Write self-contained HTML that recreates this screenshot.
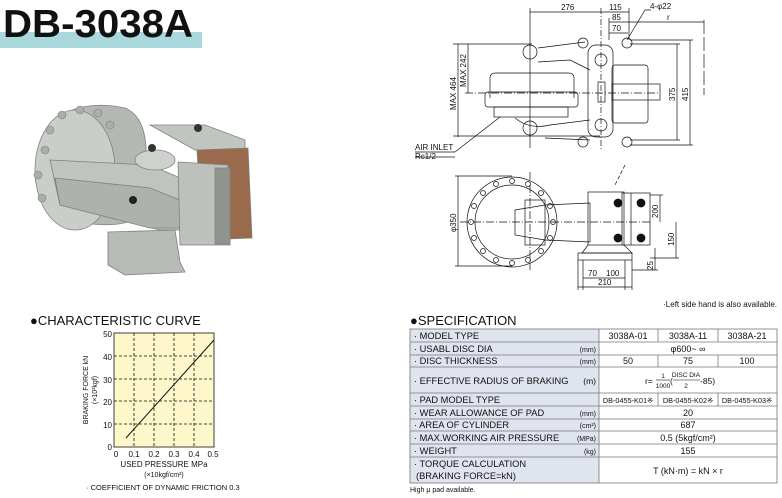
<!DOCTYPE html>
<html><head><meta charset="utf-8"><style>
body{margin:0;background:#fff;width:782px;height:498px;overflow:hidden;font-family:"Liberation Sans",sans-serif}
svg{display:block}
text{font-family:"Liberation Sans",sans-serif}
</style></head><body>
<svg width="782" height="498" viewBox="0 0 782 498" xmlns="http://www.w3.org/2000/svg">
<!-- title -->
<rect x="0" y="32" width="202" height="16" fill="#a9d9dc"/>
<text x="3" y="37" font-size="39" font-weight="bold" fill="#111" textLength="190" lengthAdjust="spacingAndGlyphs">DB-3038A</text>

<!-- photo -->
<g stroke="#7c827c" stroke-width="0.8">
<path d="M60 115 Q90 100 125 108 Q148 118 146 160 L145 215 Q120 230 80 222 Z" fill="#b3b9b2"/>
<ellipse cx="75" cy="170" rx="40" ry="60" fill="#c9cec8"/>
<path d="M150 125 L205 125 L245 140 L245 150 L195 150 Z" fill="#c0c6bf"/>
<path d="M50 160 L150 165 L185 180 L190 230 L160 230 L60 205 Z" fill="#bfc5be"/>
<path d="M55 178 L150 188 L185 202 L185 228 L150 228 L60 205Z" fill="#adb3ac"/>
<ellipse cx="155" cy="160" rx="20" ry="10" fill="#cdd2cc"/>
<path d="M108 232 L175 230 L180 262 L185 272 L125 275 L108 265 Z" fill="#b6bcb5"/>
<path d="M197 150 L248 148 L252 238 L202 240 Z" fill="#9a6a4c"/>
<path d="M178 162 L228 165 L230 245 L180 245 Z" fill="#bcc2bb"/>
<rect x="215" y="168" width="15" height="76" fill="#8f958e"/>
</g>
<g fill="#aab0a9" stroke="#7c827c" stroke-width="0.6">
<circle cx="45" cy="150" r="4"/><circle cx="50" cy="130" r="4"/><circle cx="62" cy="115" r="4"/><circle cx="80" cy="110" r="4"/><circle cx="98" cy="113" r="4"/><circle cx="110" cy="125" r="4"/><circle cx="38" cy="175" r="4"/><circle cx="42" cy="198" r="4"/>
</g>
<circle cx="133" cy="200" r="4" fill="#222"/>
<circle cx="198" cy="128" r="4" fill="#333"/><circle cx="152" cy="148" r="4" fill="#333"/>

<!-- top view drawing -->
<g stroke="#111" stroke-width="0.7" fill="none">
<line x1="530" y1="12" x2="629" y2="12"/><line x1="530" y1="8" x2="530" y2="148"/>
<line x1="601" y1="8" x2="601" y2="150" stroke-dasharray="6 2 1 2"/>
<line x1="629" y1="8" x2="629" y2="40"/>
<line x1="609" y1="22" x2="704" y2="22"/><line x1="609" y1="18" x2="609" y2="40"/>
<line x1="609" y1="33" x2="628" y2="33"/>
<line x1="704" y1="20" x2="704" y2="95" stroke-dasharray="14 3"/>
<path d="M651 10 L645 10 L627 40"/>
<line x1="458" y1="44" x2="458" y2="137"/><line x1="453" y1="44" x2="532" y2="44"/><line x1="453" y1="136" x2="600" y2="136"/>
<line x1="468" y1="44" x2="468" y2="93"/><line x1="465" y1="93" x2="660" y2="93" stroke-dasharray="8 2 1 2"/>
<line x1="677" y1="44" x2="677" y2="140"/><line x1="630" y1="44" x2="680" y2="44"/><line x1="630" y1="140" x2="680" y2="140"/>
<line x1="690" y1="40" x2="690" y2="145"/><line x1="630" y1="40" x2="693" y2="40"/><line x1="630" y1="145" x2="693" y2="145"/>
<path d="M490 98 L490 78 Q490 73 496 73 L568 73 Q574 73 574 78 L574 98"/>
<rect x="485" y="92" width="93" height="15" rx="3"/>
<rect x="494" y="107" width="74" height="10"/>
<path d="M538 48 L585 42 M538 62 L570 60 L590 70 M515 118 Q530 130 550 125 L590 120 M545 138 L590 140"/>
<rect x="588" y="45" width="25" height="92" rx="8"/>
<rect x="598" y="82" width="7" height="20"/>
<rect x="612" y="65" width="36" height="58" rx="3"/>
<rect x="612" y="84" width="48" height="16"/>
<circle cx="601" cy="60" r="6"/><circle cx="601" cy="125" r="6"/>
<circle cx="627" cy="43" r="5"/><circle cx="627" cy="142" r="5"/>
<circle cx="583" cy="43" r="5"/><circle cx="583" cy="142" r="5"/>
<circle cx="530" cy="128" r="7"/><circle cx="530" cy="52" r="7"/>
<path d="M455 152 L415 152 M455 152 L500 117 M415 157 L455 157"/>
</g>
<g font-size="8" fill="#111">
<text x="561" y="10">276</text><text x="609" y="10">115</text><text x="612" y="20">85</text><text x="612" y="31">70</text>
<text x="650" y="9">4-φ22</text><text x="667" y="20">r</text>
<text x="415" y="150">AIR INLET</text><text x="415" y="159">Rc1/2</text>
<text transform="translate(456,110) rotate(-90)">MAX 464</text>
<text transform="translate(466,87) rotate(-90)">MAX 242</text>
<text transform="translate(675,101) rotate(-90)">375</text>
<text transform="translate(688,101) rotate(-90)">415</text>
</g>

<!-- side view -->
<g stroke="#111" stroke-width="0.7" fill="none">
<circle cx="512" cy="222" r="45"/><circle cx="512" cy="222" r="37"/>
<g>
<circle cx="553" cy="222" r="2.5"/><circle cx="471" cy="222" r="2.5"/><circle cx="512" cy="181" r="2.5"/><circle cx="512" cy="263" r="2.5"/>
<circle cx="541" cy="193" r="2.5"/><circle cx="483" cy="193" r="2.5"/><circle cx="541" cy="251" r="2.5"/><circle cx="483" cy="251" r="2.5"/>
<circle cx="550" cy="206" r="2.5"/><circle cx="474" cy="206" r="2.5"/><circle cx="550" cy="238" r="2.5"/><circle cx="474" cy="238" r="2.5"/>
<circle cx="528" cy="184" r="2.5"/><circle cx="496" cy="184" r="2.5"/><circle cx="528" cy="260" r="2.5"/><circle cx="496" cy="260" r="2.5"/>
</g>
<line x1="458" y1="176" x2="458" y2="266"/><line x1="455" y1="176" x2="512" y2="176"/><line x1="455" y1="266" x2="512" y2="266"/>
<line x1="460" y1="222" x2="650" y2="222" stroke-dasharray="8 2 1 2"/>
<line x1="530" y1="172" x2="530" y2="270" stroke-dasharray="8 2 1 2"/>
<rect x="525" y="200" width="20" height="45"/>
<path d="M515 210 L545 205 L590 203 L590 242 L545 240 L515 235Z"/>
<rect x="588" y="192" width="36" height="53"/>
<rect x="622" y="193" width="28" height="52"/>
<line x1="631" y1="193" x2="631" y2="245"/>
<circle cx="618" cy="203" r="4" fill="#111"/><circle cx="641" cy="203" r="4" fill="#111"/><circle cx="618" cy="238" r="4" fill="#111"/><circle cx="641" cy="238" r="4" fill="#111"/>
<path d="M588 245 L582 253 L632 253 L624 245"/>
<rect x="578" y="253" width="54" height="7"/>
<line x1="660" y1="195" x2="660" y2="222"/><line x1="650" y1="195" x2="663" y2="195"/>
<line x1="676" y1="222" x2="676" y2="258"/><line x1="650" y1="258" x2="679" y2="258"/>
<line x1="655" y1="248" x2="655" y2="270"/><line x1="632" y1="270" x2="658" y2="270"/>
<line x1="583" y1="278" x2="625" y2="278"/><line x1="583" y1="260" x2="583" y2="290"/><line x1="625" y1="260" x2="625" y2="290"/>
<line x1="578" y1="287" x2="632" y2="287"/><line x1="578" y1="260" x2="578" y2="290"/><line x1="632" y1="260" x2="632" y2="290"/>
<line x1="625" y1="165" x2="615" y2="185" stroke-dasharray="4 2"/>
</g>
<g font-size="8" fill="#111">
<text transform="translate(456,232) rotate(-90)">φ350</text>
<text transform="translate(658,218) rotate(-90)">200</text>
<text transform="translate(674,246) rotate(-90)">150</text>
<text transform="translate(653,270) rotate(-90)">25</text>
<text x="588" y="276">70</text><text x="606" y="276">100</text><text x="598" y="285">210</text>
<text x="777" y="307" text-anchor="end">·Left side hand is also available.</text>
</g>

<!-- chart -->
<text x="30" y="325" font-size="13" fill="#111">●CHARACTERISTIC CURVE</text>
<rect x="114" y="333" width="100" height="114" fill="#fdf7c9" stroke="#111" stroke-width="0.8"/>
<g stroke="#111" stroke-width="0.8" stroke-dasharray="3 2">
<line x1="134" y1="333" x2="134" y2="447"/><line x1="154" y1="333" x2="154" y2="447"/><line x1="174" y1="333" x2="174" y2="447"/><line x1="194" y1="333" x2="194" y2="447"/>
<line x1="114" y1="356" x2="214" y2="356"/><line x1="114" y1="379" x2="214" y2="379"/><line x1="114" y1="401" x2="214" y2="401"/><line x1="114" y1="424" x2="214" y2="424"/>
</g>
<line x1="126" y1="438" x2="214" y2="340" stroke="#111" stroke-width="1"/>
<g font-size="8" fill="#111" text-anchor="end">
<text x="112" y="337">50</text><text x="112" y="360">40</text><text x="112" y="383">30</text><text x="112" y="405">20</text><text x="112" y="428">10</text><text x="112" y="450">0</text>
</g>
<g font-size="8" fill="#111" text-anchor="middle">
<text x="116" y="457">0</text><text x="134" y="457">0.1</text><text x="154" y="457">0.2</text><text x="174" y="457">0.3</text><text x="194" y="457">0.4</text><text x="213" y="457">0.5</text>
<text x="164" y="467">USED PRESSURE MPa</text><text x="164" y="477" font-size="7">(×10kgf/cm²)</text>
<text transform="translate(88,390) rotate(-90)" font-size="7">BRAKING FORCE kN</text>
<text transform="translate(97,390) rotate(-90)" font-size="7">(×10²kgf)</text>
</g>
<text x="86" y="490" font-size="7.5" fill="#111">· COEFFICIENT OF DYNAMIC FRICTION 0.3</text>

<!-- spec table -->
<text x="410" y="325" font-size="13" fill="#111">●SPECIFICATION</text>
<rect x="410" y="329" width="189" height="154" fill="#dfe4ee"/>
<g stroke="#777" stroke-width="0.8" fill="none">
<rect x="410" y="329" width="367" height="154"/>
<line x1="599" y1="329" x2="599" y2="483"/>
<line x1="410" y1="342" x2="777" y2="342"/><line x1="410" y1="355" x2="777" y2="355"/><line x1="410" y1="367" x2="777" y2="367"/>
<line x1="410" y1="393" x2="777" y2="393"/><line x1="410" y1="406" x2="777" y2="406"/><line x1="410" y1="419" x2="777" y2="419"/>
<line x1="410" y1="431" x2="777" y2="431"/><line x1="410" y1="444" x2="777" y2="444"/><line x1="410" y1="457" x2="777" y2="457"/>
<line x1="658" y1="329" x2="658" y2="342"/><line x1="718" y1="329" x2="718" y2="342"/>
<line x1="658" y1="355" x2="658" y2="367"/><line x1="718" y1="355" x2="718" y2="367"/>
<line x1="658" y1="393" x2="658" y2="406"/><line x1="718" y1="393" x2="718" y2="406"/>
</g>
<g font-size="9.3" fill="#111">
<text x="414" y="339">· MODEL TYPE</text>
<text x="414" y="352">· USABL DISC DIA</text>
<text x="414" y="364">· DISC THICKNESS</text>
<text x="414" y="384">· EFFECTIVE RADIUS OF BRAKING</text>
<text x="414" y="403">· PAD MODEL TYPE</text>
<text x="414" y="416">· WEAR ALLOWANCE OF PAD</text>
<text x="414" y="428">· AREA OF CYLINDER</text>
<text x="414" y="441">· MAX.WORKING AIR PRESSURE</text>
<text x="414" y="454">· WEIGHT</text>
<text x="414" y="467">· TORQUE CALCULATION</text>
<text x="416" y="479">(BRAKING FORCE=kN)</text>
</g>
<g font-size="7" fill="#111" text-anchor="end">
<text x="596" y="352">(mm)</text><text x="596" y="364">(mm)</text><text x="596" y="384" font-size="8.5">(m)</text>
<text x="596" y="416">(mm)</text><text x="596" y="428">(cm²)</text><text x="596" y="441">(MPa)</text><text x="596" y="454">(kg)</text>
</g>
<g font-size="9" fill="#111" text-anchor="middle">
<text x="628" y="339">3038A-01</text><text x="688" y="339">3038A-11</text><text x="747" y="339">3038A-21</text>
<text x="688" y="352">φ600~ ∞</text>
<text x="628" y="364">50</text><text x="688" y="364">75</text><text x="747" y="364">100</text>
<text x="628" y="403" font-size="7.3">DB-0455-K01※</text><text x="688" y="403" font-size="7.3">DB-0455-K02※</text><text x="747" y="403" font-size="7.3">DB-0455-K03※</text>
<text x="688" y="416">20</text><text x="688" y="428">687</text><text x="688" y="441">0.5 (5kgf/cm²)</text><text x="688" y="454">155</text>
<text x="688" y="474">T (kN·m) = kN × r</text>
</g>
<g font-size="8.5" fill="#111">
<text x="645" y="384">r=</text>
<text x="663" y="378" font-size="6.5" text-anchor="middle">1</text>
<line x1="656" y1="380" x2="670" y2="380" stroke="#111" stroke-width="0.6"/>
<text x="663" y="388" font-size="6.5" text-anchor="middle">1000</text>
<text x="670" y="384">(</text>
<text x="686" y="377" font-size="6.5" text-anchor="middle">DISC DIA</text>
<line x1="673" y1="380" x2="700" y2="380" stroke="#111" stroke-width="0.6"/>
<text x="686" y="388" font-size="6.5" text-anchor="middle">2</text>
<text x="700" y="384">-85)</text>
</g>
<text x="410" y="492" font-size="7" fill="#111">High μ pad available.</text>
</svg>
</body></html>
